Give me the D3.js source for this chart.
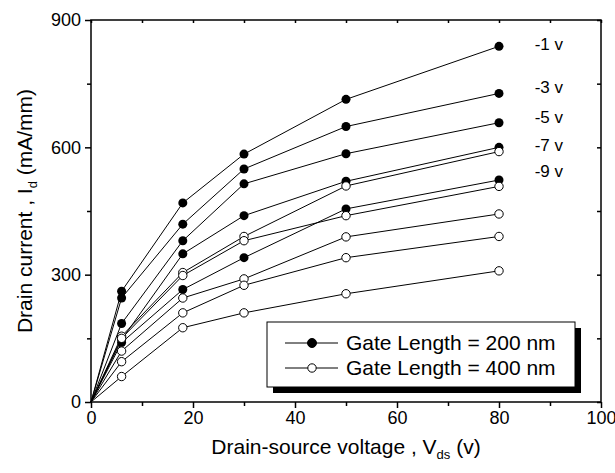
<!DOCTYPE html>
<html>
<head>
<meta charset="utf-8">
<script src="https://cdn.jsdelivr.net/npm/d3@7"></script>
<style>
  body { margin: 0; background: #fff; }
  svg { font-family: "Liberation Sans", Arial, sans-serif; }
</style>
</head>
<body>
<div id="chart"></div>
<script>
// drain-source voltage points (v)
var vds = [0, 6, 18, 30, 50, 80];
// gate voltages, top to bottom
var gateLabels = ["-1 v", "-3 v", "-5 v", "-7 v", "-9 v"];
var labelY = [843, 743, 672, 606, 545];
var labelX = 87;

// drain current (mA/mm), gate length 200 nm
var id200 = [
    [0, 261, 469, 584, 713, 838],
    [0, 245, 419, 549, 649, 727],
    [0, 185, 380, 514, 585, 658],
    [0, 147, 349, 439, 520, 600],
    [0, 140, 265, 340, 455, 523]
];
// drain current (mA/mm), gate length 400 nm
var id400 = [
    [0, 155, 305, 390, 509, 590],
    [0, 150, 298, 380, 439, 508],
    [0, 120, 245, 290, 389, 443],
    [0, 95, 210, 275, 340, 390],
    [0, 60, 175, 210, 255, 309]
];

var xMajor = [0, 20, 40, 60, 80, 100];
var xMinor = [10, 30, 50, 70, 90];
var yMajor = [0, 300, 600, 900];
var yMinor = [150, 450, 750];

var legendItems = ["Gate Length = 200 nm", "Gate Length = 400 nm"];

var W = 615, H = 473;
var svg = d3.select("#chart").append("svg")
    .attr("width", W)
    .attr("height", H);

var x = d3.scaleLinear().domain([0, 100]).range([91, 601]);
var y = d3.scaleLinear().domain([0, 900]).range([402, 20]);

// frame
svg.append("rect")
    .attr("x", x(0)).attr("y", y(900))
    .attr("width", x(100) - x(0)).attr("height", y(0) - y(900))
    .attr("fill", "none").attr("stroke", "black").attr("stroke-width", 1.5);

// bottom axis
var gx = svg.append("g").attr("transform", "translate(0," + y(0) + ")");
gx.call(d3.axisBottom(x).tickValues(xMajor).tickSize(6).tickPadding(3));
gx.append("g").call(d3.axisBottom(x).tickValues(xMinor).tickSize(4).tickFormat(""));
// top axis (inside ticks)
var gxt = svg.append("g").attr("transform", "translate(0," + y(900) + ")");
gxt.call(d3.axisBottom(x).tickValues(xMajor.concat(xMinor)).tickSize(3).tickFormat(""));

// left axis
var gy = svg.append("g").attr("transform", "translate(" + x(0) + ",0)");
gy.call(d3.axisLeft(y).tickValues(yMajor).tickSize(6).tickPadding(4));
gy.append("g").call(d3.axisLeft(y).tickValues(yMinor).tickSize(4).tickFormat(""));
// right axis (inside ticks)
var gyr = svg.append("g").attr("transform", "translate(" + x(100) + ",0)");
gyr.call(d3.axisLeft(y).tickValues(yMajor.concat(yMinor)).tickSize(4).tickFormat(""));

svg.selectAll(".domain").attr("stroke", "none");
svg.selectAll(".tick line").attr("stroke", "black").attr("stroke-width", 1.5);
svg.selectAll(".tick text")
    .attr("font-family", "'Liberation Sans', Arial, sans-serif")
    .attr("font-size", 18).attr("fill", "black");

// axis titles
var xt = svg.append("text")
    .attr("x", (x(0) + x(100)) / 2).attr("y", 454)
    .attr("text-anchor", "middle").attr("font-size", 21);
xt.append("tspan").text("Drain-source voltage , V");
xt.append("tspan").attr("font-size", 13).attr("dy", 5).text("ds");
xt.append("tspan").attr("dy", -5).text(" (v)");

var yt = svg.append("text")
    .attr("transform", "translate(32," + ((y(0) + y(900)) / 2) + ") rotate(-90)")
    .attr("text-anchor", "middle").attr("font-size", 21);
yt.append("tspan").text("Drain current , I");
yt.append("tspan").attr("font-size", 13).attr("dy", 5).text("d");
yt.append("tspan").attr("dy", -5).text(" (mA/mm)");

var line = d3.line()
    .x(function (d, i) { return x(vds[i]); })
    .y(function (d) { return y(d); });

// lines
svg.selectAll(".line200").data(id200).join("path")
    .attr("class", "line200")
    .attr("d", line).attr("fill", "none")
    .attr("stroke", "black").attr("stroke-width", 1);
svg.selectAll(".line400").data(id400).join("path")
    .attr("class", "line400")
    .attr("d", line).attr("fill", "none")
    .attr("stroke", "black").attr("stroke-width", 1);

// markers (skip origin point)
function pts(series) {
    var out = [];
    series.forEach(function (s) {
        s.forEach(function (v, i) { if (i > 0) out.push({ x: vds[i], y: v }); });
    });
    return out;
}
svg.selectAll(".m200").data(pts(id200)).join("circle")
    .attr("class", "m200")
    .attr("cx", function (d) { return x(d.x); })
    .attr("cy", function (d) { return y(d.y); })
    .attr("r", 4.5).attr("fill", "black");
svg.selectAll(".m400").data(pts(id400)).join("circle")
    .attr("class", "m400")
    .attr("cx", function (d) { return x(d.x); })
    .attr("cy", function (d) { return y(d.y); })
    .attr("r", 4.2).attr("fill", "white")
    .attr("stroke", "black").attr("stroke-width", 1);

// gate voltage labels
svg.selectAll(".glabel").data(gateLabels).join("text")
    .attr("class", "glabel")
    .attr("x", x(labelX))
    .attr("y", function (d, i) { return y(labelY[i]); })
    .attr("dy", "0.35em")
    .attr("font-size", 17)
    .text(function (d) { return d; });

// legend
var lg = svg.append("g");
lg.append("rect").attr("x", 273).attr("y", 328).attr("width", 308).attr("height", 65).attr("fill", "black");
lg.append("rect").attr("x", 267).attr("y", 322).attr("width", 308).attr("height", 65)
    .attr("fill", "white").attr("stroke", "black").attr("stroke-width", 1);
legendItems.forEach(function (t, i) {
    var ly = 343 + i * 25;
    lg.append("line").attr("x1", 285).attr("x2", 338).attr("y1", ly).attr("y2", ly)
        .attr("stroke", "black").attr("stroke-width", 1);
    lg.append("circle").attr("cx", 312).attr("cy", ly).attr("r", i == 0 ? 4.5 : 4.2)
        .attr("fill", i == 0 ? "black" : "white").attr("stroke", "black").attr("stroke-width", 1);
    lg.append("text").attr("x", 346).attr("y", ly).attr("dy", "0.35em")
        .attr("font-size", 21).text(t);
});
</script>
</body>
</html>
